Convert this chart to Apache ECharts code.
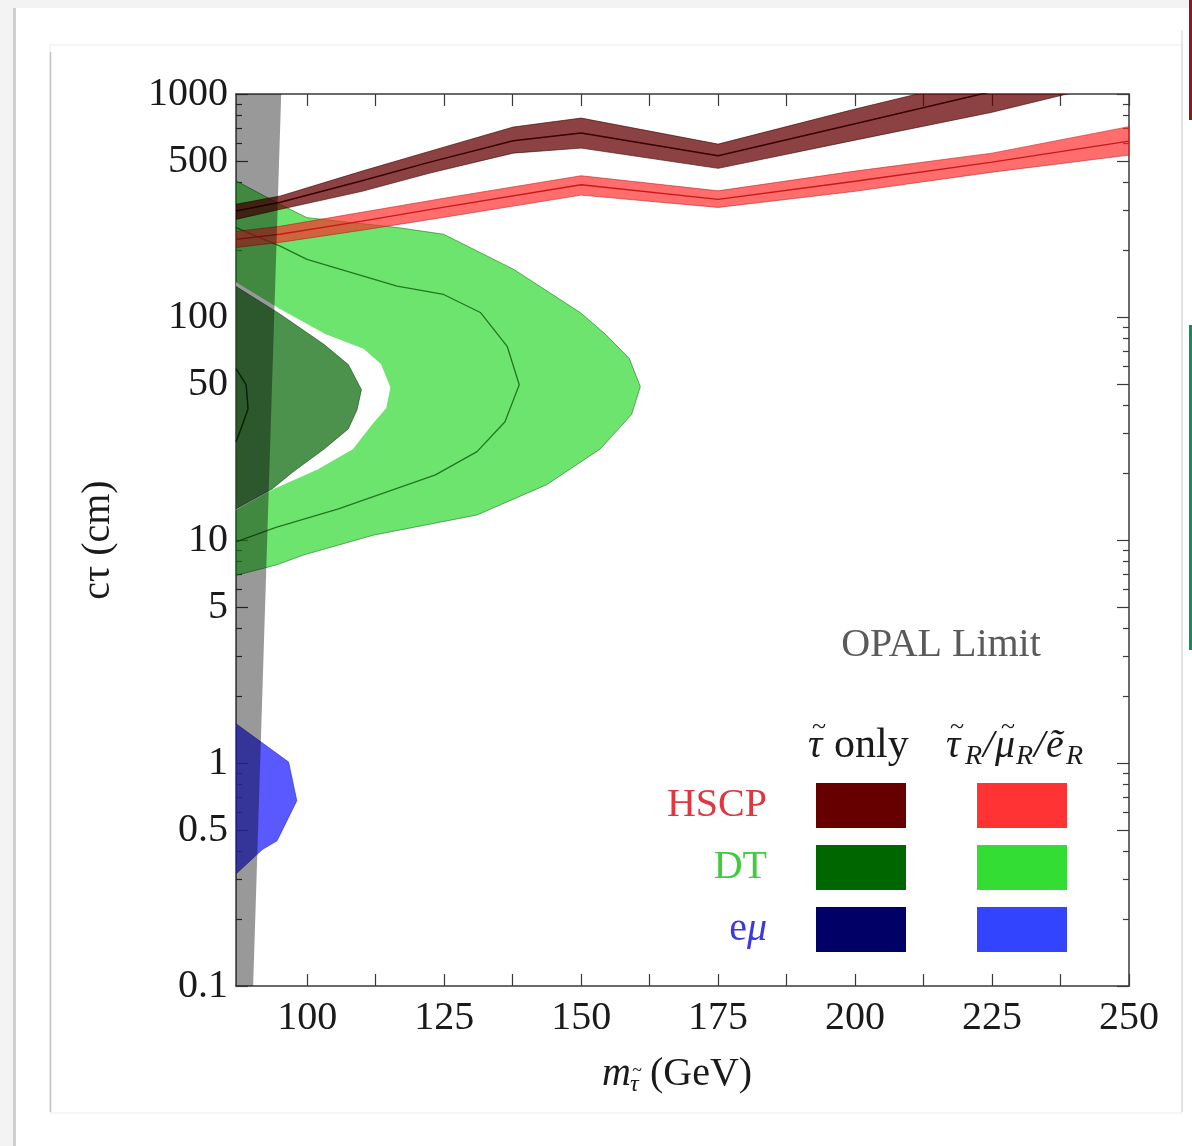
<!DOCTYPE html>
<html><head><meta charset="utf-8">
<script src="https://cdn.jsdelivr.net/npm/echarts@6/dist/echarts.min.js"></script>
<style>html,body{margin:0;padding:0;background:#fff}#c{width:1192px;height:1146px}</style>
</head><body><div id="c"></div>
<script>
// ---------------- data ----------------
const massMin = 87, massMax = 250;
const ctMin = 0.1, ctMax = 1000;
const xLabelValues = [100, 125, 150, 175, 200, 225, 250];
const xTickValues = [100, 112.5, 125, 137.5, 150, 162.5, 175, 187.5, 200, 212.5, 225, 237.5, 250];
const yLabelValues = [0.1, 0.5, 1, 5, 10, 50, 100, 500, 1000];
const yMinorValues = [0.2, 0.3, 0.4, 0.6, 0.7, 0.8, 0.9, 2, 3, 4, 6, 7, 8, 9, 20, 30, 40, 60, 70, 80, 90, 200, 300, 400, 600, 700, 800, 900];

// HSCP, stau only (dark red band)
const hscpTauMass   = [87, 95.1, 110, 122.4, 137.6, 150, 175, 200, 225, 250];
const hscpTauCenter = [299, 327, 408, 495, 617, 668, 528, 736, 1026, 1436];
const hscpTauUpper  = [320, 349, 451, 554, 711, 780, 596, 856, 1205, 1678];
const hscpTauLower  = [274, 304, 366, 442, 543, 572, 464, 621, 828, 1168];

// HSCP, stau_R/smu_R/sel_R (red band)
const hscpRMass   = [87, 95, 110, 125, 150, 175, 200, 225, 250];
const hscpRCenter = [223, 235, 269, 311, 392, 337, 406, 495, 615];
const hscpRUpper  = [242, 255, 295, 341, 430, 368, 451, 543, 714];
const hscpRLower  = [205, 216, 245, 280, 352, 310, 366, 446, 532];

// DT, stau_R/smu_R/sel_R (light green region, outer edge)
const dtRMass = [87, 95.07, 99.95, 116.4, 124.9, 137.7, 149.9, 154.5, 158.8, 160.8, 159.2, 153.5, 143.7, 131.0, 112.0, 99.3, 94.3, 87];
const dtRCt   = [408, 320, 279, 252, 235, 163.5, 104.4, 83.4, 65.1, 48.7, 36.5, 25.6, 17.7, 12.95, 10.5, 8.56, 7.72, 6.94];
// DT, stau_R/smu_R/sel_R central contour
const dtRLineMass = [87, 95.07, 99.95, 116.4, 124.9, 131.6, 136.5, 138.7, 136.1, 131.0, 123.4, 105.7, 94.3, 87];
const dtRLineCt   = [251.8, 208, 181.3, 137.5, 126.2, 104.8, 73.9, 49.7, 33.9, 24.9, 19.6, 13.8, 11.4, 9.8];

// DT, stau only: outer (white) edge and inner (dark green) region
const dtTauEdgeMass = [87, 94.88, 103.1, 110.2, 113.3, 115.0, 114.25, 112.0, 108.2, 101.8, 93.6, 87];
const dtTauEdgeCt   = [141.5, 108, 83.4, 71.4, 61.2, 48.2, 39.2, 33.9, 25.7, 20.9, 17.0, 13.8];
const dtTauMass = [87, 94.88, 103.1, 107.5, 109.9, 109.1, 107.5, 103.1, 97.4, 93.6, 87];
const dtTauCt   = [137.1, 103.7, 75.2, 61.2, 47.2, 38.4, 31.5, 25.6, 20.2, 16.95, 13.8];
const dtTauLineMass = [87.0, 88.85, 89.2, 87.9, 87.0];
const dtTauLineCt   = [58.7, 49.7, 38.8, 31.5, 27.6];

// e-mu, stau_R/smu_R/sel_R (blue)
const emuMass = [87, 96.6, 98.1, 94.5, 91.8, 87];
const emuCt   = [1.50, 1.01, 0.678, 0.448, 0.409, 0.318];

// OPAL limit (gray band)
const opalMass = [87, 95.25, 90.13, 87];
const opalCt   = [1000, 1000, 0.1, 0.1];

// legend table
const legendRows = ['HSCP', 'DT', '{u|e}{i|\u03BC}'];
const legendRowColors = ['#e2363f', '#3fcc3f', '#3a3ae0'];
const legendTauOnly = ['#660000', '#006600', '#000066'];
const legendAll = ['#ff3333', '#33dd33', '#3344ff'];

// ---------------- chart ----------------
const SERIF = 'Liberation Serif';
const INK = '#1a1a1a';
const chart = echarts.init(document.getElementById('c'));

function poly(name, xs, ys, style, z) {
  return {
    type: 'custom', name: name, z: z, clip: true, silent: true, animation: false,
    data: xs.map((x, i) => [x, ys[i]]),
    renderItem: function (params, api) {
      if (params.dataIndex !== 0) return null;
      const pts = xs.map((x, i) => api.coord([x, ys[i]]));
      return { type: 'polygon', shape: { points: pts }, style: style };
    }
  };
}
function band(name, xs, up, lo, style, z) {
  const bx = xs.concat(xs.slice().reverse());
  const by = up.concat(lo.slice().reverse());
  return poly(name, bx, by, style, z);
}
function curve(name, xs, ys, color, w, z) {
  return {
    type: 'line', name: name, z: z, clip: true, silent: true, animation: false,
    data: xs.map((x, i) => [x, ys[i]]), showSymbol: false, symbol: 'none',
    lineStyle: { color: color, width: w }
  };
}

const frameColor = '#3a3a3a';
function xAx(pos, labels) {
  return {
    type: 'value', min: massMin, max: massMax, position: pos,
    axisLine: { show: true, onZero: false, lineStyle: { color: frameColor, width: 1.5 } },
    axisTick: { show: true, inside: true, length: 12, customValues: xTickValues, lineStyle: { color: frameColor, width: 1.2 } },
    axisLabel: labels ? { show: true, customValues: xLabelValues, margin: 12, fontFamily: SERIF, fontSize: 40, color: INK } : { show: false },
    splitLine: { show: false }
  };
}
function yAx(pos, major, labels) {
  return {
    type: 'log', logBase: 10, min: ctMin, max: ctMax, position: pos,
    axisLine: { show: major, onZero: false, lineStyle: { color: frameColor, width: 1.5 } },
    axisTick: { show: true, inside: true, length: major ? 12 : 6, customValues: major ? yLabelValues : yMinorValues, lineStyle: { color: frameColor, width: 1.2 } },
    axisLabel: labels ? { show: true, customValues: yLabelValues, margin: 8, fontFamily: SERIF, fontSize: 40, color: INK, formatter: v => String(+(+v).toPrecision(3)) } : { show: false },
    splitLine: { show: false },
    name: labels ? 'c\u03C4 (cm)' : '',
    nameLocation: 'middle', nameGap: 118, nameRotate: 90,
    nameTextStyle: { fontFamily: SERIF, fontSize: 40, color: INK }
  };
}
function txt(text, x, y, size, opts) {
  opts = opts || {};
  const st = {
    text: text, fontFamily: SERIF, fontSize: size, fontStyle: opts.italic ? 'italic' : 'normal',
    fill: opts.fill || INK, align: opts.align || 'left', verticalAlign: 'middle' };
  if (opts.rich) st.rich = opts.rich;
  return { type: 'text', x: x, y: y, silent: true, style: st };
}

const graphics = [
  // page chrome
  { type: 'rect', shape: { x: 0, y: 0, width: 1192, height: 8 }, style: { fill: '#f3f3f3' }, silent: true },
  { type: 'rect', shape: { x: 0, y: 0, width: 15, height: 1146 }, style: { fill: '#f3f3f3' }, silent: true },
  { type: 'rect', shape: { x: 13, y: 8, width: 3, height: 1138 }, style: { fill: '#cfcfcf' }, silent: true },
  { type: 'rect', shape: { x: 50, y: 45, width: 1132, height: 1068 }, style: { fill: 'none', stroke: '#ececec', lineWidth: 1 }, silent: true },
  { type: 'line', shape: { x1: 50.5, y1: 52, x2: 50.5, y2: 1112 }, style: { stroke: '#c4c4c4', lineWidth: 1.5 }, silent: true },
  { type: 'line', shape: { x1: 1182, y1: 30, x2: 1182, y2: 1112 }, style: { stroke: '#d0d0d0', lineWidth: 1 }, silent: true },
  { type: 'rect', shape: { x: 1189, y: 0, width: 3, height: 120 }, style: { fill: '#8b1a12' }, silent: true },
  { type: 'rect', shape: { x: 1189, y: 325, width: 3, height: 325 }, style: { fill: '#168c58' }, silent: true },
  // x-axis title: m_{tau~} (GeV)
  txt('m', 602, 1074, 40, { italic: true }),
  txt('\u03C4', 630, 1085, 24, { italic: true }),
  txt('~', 637, 1071, 18, { align: 'center' }),
  txt('(GeV)', 650, 1074, 40),
  // OPAL label
  txt('OPAL Limit', 941, 645, 40, { fill: '#5a5a5a', align: 'center' }),
  // column header 1: tau~ only
  txt('\u03C4', 808, 746, 40, { italic: true }),
  txt('~', 819, 727, 26, { align: 'center' }),
  txt('only', 834, 746, 42),
  // column header 2: tau~_R / mu~_R / e~_R
  txt('\u03C4', 946, 746, 40, { italic: true }),
  txt('~', 957, 727, 26, { align: 'center' }),
  txt('R', 965, 757, 28, { italic: true }),
  txt('/', 983, 746, 40, { italic: true }),
  txt('\u03BC', 995, 746, 40, { italic: true }),
  txt('~', 1008, 727, 26, { align: 'center' }),
  txt('R', 1016, 757, 28, { italic: true }),
  txt('/', 1034, 746, 40, { italic: true }),
  txt('\u1EBD', 1046, 746, 40, { italic: true }),
  txt('R', 1066, 757, 28, { italic: true })
];
legendRows.forEach((r, i) => {
  const yc = 805 + i * 62;
  const c = legendRowColors[i];
  graphics.push(txt(r, 767, yc, 40, { fill: c, align: 'right', rich: {
    u: { fontFamily: SERIF, fontSize: 40, fill: c },
    i: { fontFamily: SERIF, fontSize: 40, fontStyle: 'italic', fill: c } } }));
  graphics.push({ type: 'rect', shape: { x: 816, y: yc - 22, width: 90, height: 45 }, style: { fill: legendTauOnly[i] }, silent: true });
  graphics.push({ type: 'rect', shape: { x: 977, y: yc - 22, width: 90, height: 45 }, style: { fill: legendAll[i] }, silent: true });
});

chart.setOption({
  animation: false,
  backgroundColor: '#ffffff',
  grid: { left: 236, right: 63, top: 94, bottom: 160, containLabel: false, outerBoundsMode: 'none' },
  xAxis: [xAx('bottom', true), xAx('top', false)],
  yAxis: [yAx('left', true, true), yAx('left', false, false), yAx('right', true, false), yAx('right', false, false)],
  series: [
    poly('DT R', dtRMass, dtRCt, { fill: 'rgba(40,215,40,0.68)', stroke: 'rgba(0,110,0,0.55)', lineWidth: 1 }, 2),
    curve('DT R central', dtRLineMass, dtRLineCt, 'rgba(20,100,20,0.85)', 1.3, 3),
    poly('DT tau edge', dtTauEdgeMass, dtTauEdgeCt, { fill: '#ffffff', stroke: '#ffffff', lineWidth: 2 }, 4),
    poly('DT tau', dtTauMass, dtTauCt, { fill: 'rgba(0,100,0,0.7)', stroke: 'rgba(0,60,0,0.5)', lineWidth: 1 }, 5),
    curve('DT tau central', dtTauLineMass, dtTauLineCt, '#0a3a0a', 1.5, 6),
    poly('emu R', emuMass, emuCt, { fill: 'rgba(60,60,255,0.85)', stroke: 'rgba(40,40,200,0.6)', lineWidth: 1 }, 7),
    band('HSCP R', hscpRMass, hscpRUpper, hscpRLower, { fill: 'rgba(255,40,40,0.68)', stroke: 'rgba(190,20,20,0.55)', lineWidth: 1 }, 8),
    curve('HSCP R central', hscpRMass, hscpRCenter, '#c81818', 1.4, 9),
    band('HSCP tau', hscpTauMass, hscpTauUpper, hscpTauLower, { fill: 'rgba(100,0,0,0.74)', stroke: 'rgba(60,0,0,0.6)', lineWidth: 1 }, 10),
    curve('HSCP tau central', hscpTauMass, hscpTauCenter, '#3a0000', 1.5, 11),
    poly('OPAL', opalMass, opalCt, { fill: 'rgba(0,0,0,0.4)' }, 12)
  ],
  graphic: graphics
});
</script></body></html>
